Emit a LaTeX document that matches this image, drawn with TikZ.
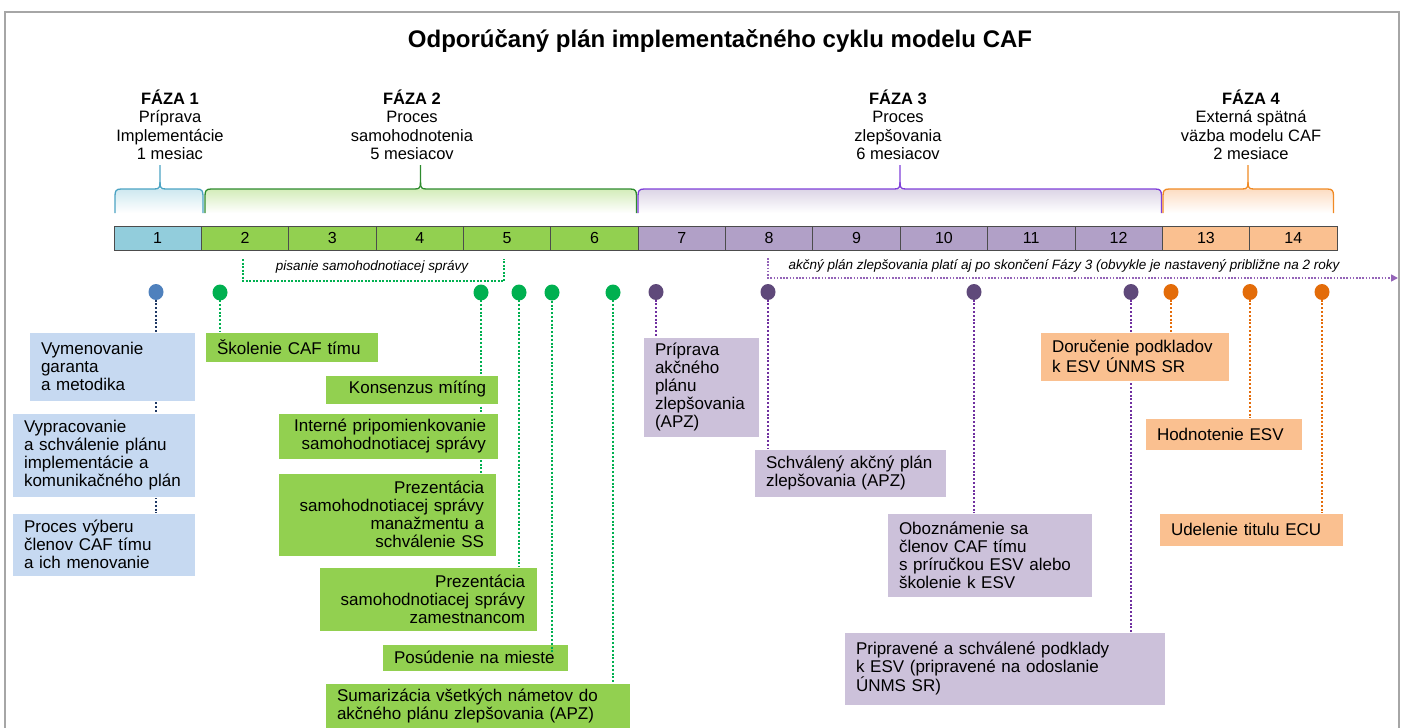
\documentclass[tikz,border=0pt]{standalone}
\usepackage{fontspec}
\setmainfont{Liberation Sans}
\usetikzlibrary{arrows.meta,calc,shapes.geometric}
\pgfdeclarelayer{background}
\pgfsetlayers{background,main}

\definecolor{bxblue}{HTML}{C6D9F1}
\definecolor{bxgreen}{HTML}{92D050}
\definecolor{bxpurple}{HTML}{CCC1DA}
\definecolor{bxorange}{HTML}{FAC090}
\definecolor{cblue}{HTML}{92CDDC}
\definecolor{cpurple}{HTML}{B1A0C7}
\definecolor{dblue}{HTML}{4F81BD}
\definecolor{dgreen}{HTML}{00B050}
\definecolor{dpurple}{HTML}{5F497A}
\definecolor{dorange}{HTML}{E36C09}
\definecolor{lnavy}{HTML}{1F3864}
\definecolor{lpurple}{HTML}{7030A0}
\definecolor{lorange}{HTML}{E46C0A}
\definecolor{brblue}{HTML}{4BA3C3}
\definecolor{brgreen}{HTML}{2E8B2E}
\definecolor{brpurple}{HTML}{7F3FD9}
\definecolor{brorange}{HTML}{F08A24}
\definecolor{framegray}{HTML}{A6A6A6}

\newcommand\mkbox[7]{%
  \pgfmathsetmacro\mkw{#4-#2}%
  \pgfmathsetmacro\mkh{#5-#3}%
  \pgfmathsetmacro\mkt{#4-#2-24}%
  \node[#1, minimum width=\mkw pt, minimum height=\mkh pt, text width=\mkt pt] (#6) at ({(#2+#4)/2},{(#3+#5)/2}) {#7};}

\newcommand\phbrace[5]{%
  \shade[top color=#5, bottom color=white] (#1,213) -- (#1,196) .. controls (#1,191) and (#1+1,189) .. (#1+6,189) -- (#2-6,189) .. controls (#2-1,189) and (#2,191) .. (#2,196) -- (#2,213) -- cycle;
  \draw[#4, line width=1.3pt] (#1,213) -- (#1,196) .. controls (#1,191) and (#1+1,189) .. (#1+6,189) -- (#3-6,189) .. controls (#3-1,189) and (#3,188) .. (#3,182) -- (#3,165);
  \draw[#4, line width=1.3pt] (#3,182) .. controls (#3,188) and (#3+1,189) .. (#3+6,189) -- (#2-6,189) .. controls (#2-1,189) and (#2,191) .. (#2,196) -- (#2,213);
}

\begin{document}
\begin{tikzpicture}[x=1pt,y=-1pt,
  box/.style={inner xsep=12pt, inner ysep=0pt, draw=white, line width=0.6pt, font=\fontsize{17}{18}\selectfont, align=left, text=black},
  bluebox/.style={box, fill=bxblue},
  greenbox/.style={box, fill=bxgreen},
  greenboxr/.style={box, fill=bxgreen, align=right},
  purplebox/.style={box, fill=bxpurple},
  orangebox/.style={box, fill=bxorange},
  cell/.style={draw=black!70, line width=0.8pt, minimum width=87.36pt, minimum height=24pt, inner sep=0pt, font=\fontsize{16}{18}\selectfont},
  heading/.style={font=\fontsize{16.5}{18.3}\selectfont, align=center, inner sep=0pt, anchor=base},
  dotn/.style={ellipse, minimum width=15pt, minimum height=16pt, inner sep=0pt},
  conn/.style={line width=2.4pt, dash pattern=on 2pt off 1.8pt},
  note/.style={font=\fontsize{13.5}{15}\selectfont\itshape, inner sep=0pt}
]
\useasboundingbox (0,0) rectangle (1403,728);
\clip (0,0) rectangle (1403,728);

% frame
\draw[framegray, line width=1.6pt] (5,12) rectangle (1399,760);

% title
\node[font=\fontsize{24}{27}\selectfont\bfseries, anchor=base] (title) at (720,47) {Odporúčaný plán implementačného cyklu modelu CAF};

% phase headings
\node[heading] (h1) at (170,159.5) {\textbf{FÁZA 1}\\Príprava\\Implementácie\\1 mesiac};
\node[heading] (h2) at (412,159.5) {\textbf{FÁZA 2}\\Proces\\samohodnotenia\\5 mesiacov};
\node[heading] (h3) at (898,159.5) {\textbf{FÁZA 3}\\Proces\\zlepšovania\\6 mesiacov};
\node[heading] (h4) at (1251,159.5) {\textbf{FÁZA 4}\\Externá spätná\\väzba modelu CAF\\2 mesiace};

% braces
\phbrace{115}{203}{160}{brblue}{cblue!45}
\phbrace{205}{636.5}{420.5}{brgreen}{bxgreen!40}
\phbrace{638}{1161.5}{900}{brpurple}{cpurple!45}
\phbrace{1163}{1333.5}{1248}{brorange}{bxorange!55}

% timeline cells
\foreach \i/\c in {1/cblue,2/bxgreen,3/bxgreen,4/bxgreen,5/bxgreen,6/bxgreen,7/cpurple,8/cpurple,9/cpurple,10/cpurple,11/cpurple,12/cpurple,13/bxorange,14/bxorange}
  \node[cell, fill=\c] (c\i) at ({114+87.357*(\i-0.5)},238) {\i};

% writing bracket
\coordinate (wa) at (243,259);
\coordinate (wb) at (243,281);
\coordinate (wc) at (504,281);
\coordinate (wd) at (504,259);
\draw[dgreen, line width=2pt, dash pattern=on 2pt off 1.5pt] (wa) -- (wb) -- (wc) -- (wd);
\node[note] (wtext) at (372,267) {pisanie samohodnotiacej správy};

% action plan arrow
\coordinate (aa) at (768,258);
\coordinate (ab) at (768,278);
\coordinate (ac) at (1398,278);
\draw[lpurple!75, line width=1.6pt, dash pattern=on 1.6pt off 1.6pt, -{Triangle[length=7pt,width=7pt]}] (aa) -- (ab) -- (ac);
\node[note] (atext) at (1064,266) {akčný plán zlepšovania platí aj po skončení Fázy 3 (obvykle je nastavený približne na 2 roky};

% milestone dots
\node[dotn, fill=dblue] (d1) at (156,292) {};
\node[dotn, fill=dgreen] (d2) at (220,292.5) {};
\node[dotn, fill=dgreen] (d3) at (481,292.5) {};
\node[dotn, fill=dgreen] (d4) at (519,292.5) {};
\node[dotn, fill=dgreen] (d5) at (552,292.5) {};
\node[dotn, fill=dgreen] (d6) at (613,292.5) {};
\node[dotn, fill=dpurple] (d7) at (656,292) {};
\node[dotn, fill=dpurple] (d8) at (768,292) {};
\node[dotn, fill=dpurple] (d9) at (974,292) {};
\node[dotn, fill=dpurple] (d10) at (1131,292) {};
\node[dotn, fill=dorange] (d11) at (1171,292) {};
\node[dotn, fill=dorange] (d12) at (1250,292) {};
\node[dotn, fill=dorange] (d13) at (1322,292) {};

% boxes
\mkbox{bluebox}{29}{332}{195}{401}{b1}{Vymenovanie\\garanta\\a metodika}
\mkbox{bluebox}{12}{413}{195}{497}{b2}{Vypracovanie\\a schválenie plánu\\implementácie  a\\komunikačného plán}
\mkbox{bluebox}{12}{513}{195}{576}{b3}{Proces výberu\\členov CAF tímu\\a ich menovanie}

\mkbox{greenbox}{205}{332}{378}{362}{g1}{Školenie CAF tímu}
\mkbox{greenboxr}{325}{375}{498}{404}{g2}{Konsenzus mítíng}
\mkbox{greenboxr}{278}{413}{498}{459}{g3}{Interné pripomienkovanie\\samohodnotiacej správy}
\mkbox{greenboxr}{278}{473}{496}{556}{g4}{Prezentácia\\samohodnotiacej správy\\manažmentu a\\schválenie SS}
\mkbox{greenboxr}{319}{567}{537}{631}{g5}{Prezentácia\\samohodnotiacej správy\\zamestnancom}
\mkbox{greenbox}{382}{644}{568}{671}{g6}{Posúdenie na mieste}
\mkbox{greenbox}{325}{683}{630}{728}{g7}{Sumarizácia všetkých námetov do\\akčného plánu zlepšovania (APZ)}

\mkbox{purplebox}{643}{337}{759}{437}{p1}{Príprava\\akčného\\plánu\\zlepšovania\\(APZ)}
\mkbox{purplebox}{754}{449}{946}{497}{p2}{Schválený akčný plán\\zlepšovania (APZ)}
\mkbox{purplebox}{887}{513}{1092}{597}{p3}{Oboznámenie sa\\členov CAF tímu\\s príručkou ESV alebo\\školenie k ESV}
\mkbox{purplebox}{844}{632}{1165}{705}{p4}{Pripravené a schválené podklady\\k ESV (pripravené na odoslanie\\ÚNMS SR)}

\mkbox{orangebox}{1040}{332}{1229}{381}{o1}{Doručenie podkladov\\k ESV ÚNMS SR}
\mkbox{orangebox}{1145}{418}{1302}{450}{o2}{Hodnotenie ESV}
\mkbox{orangebox}{1159}{513}{1343}{546}{o3}{Udelenie titulu ECU}

% connectors behind boxes
\begin{pgfonlayer}{background}
\draw[conn, lnavy] (d1.center) -- (d1 |- b3.north);
\draw[conn, dgreen] (d2.center) -- (d2 |- g1.north);
\draw[conn, dgreen] (d3.center) -- (d3 |- g4.north);
\draw[conn, dgreen] (d4.center) -- (d4 |- g5.north);
\draw[conn, dgreen] (d6.center) -- (d6 |- g7.north);
\draw[conn, lpurple] (d7.center) -- (d7 |- p1.north);
\draw[conn, lpurple] (d8.center) -- (d8 |- p2.north);
\draw[conn, lpurple] (d9.center) -- (d9 |- p3.north);
\draw[conn, lpurple] (d10.center) -- (d10 |- p4.north);
\draw[conn, lorange] (d11.center) -- (d11 |- o1.north);
\draw[conn, lorange] (d12.center) -- (d12 |- o2.north);
\draw[conn, lorange] (d13.center) -- (d13 |- o3.north);
\end{pgfonlayer}
% this one runs a little into its box
\draw[conn, dgreen] (d5.south) -- ($(d5 |- g6.north)+(0,8)$);
\end{tikzpicture}
\end{document}
